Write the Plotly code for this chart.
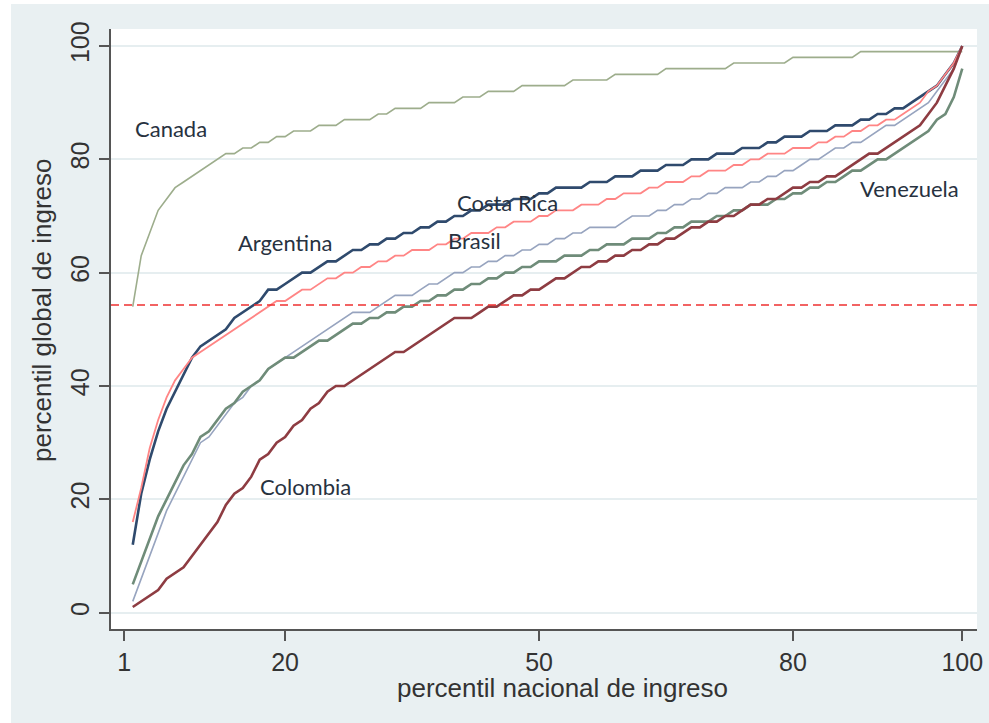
import plotly.graph_objects as go

# National income percentile (x) 2..100
percentil_nacional = list(range(2, 101))

canada = [54, 63, 67, 71, 73, 75, 76, 77, 78, 79, 80, 81, 81, 82, 82, 83, 83, 84, 84,
          85, 85, 85, 86, 86, 86, 87, 87, 87, 87, 88, 88, 89, 89, 89, 89, 90, 90, 90, 90,
          91, 91, 91, 92, 92, 92, 92, 93, 93, 93, 93, 93, 93, 94, 94, 94, 94, 94,
          95, 95, 95, 95, 95, 95, 96, 96, 96, 96, 96, 96, 96, 96,
          97, 97, 97, 97, 97, 97, 97, 98, 98, 98, 98, 98, 98, 98, 98,
          99, 99, 99, 99, 99, 99, 99, 99, 99, 99, 99, 99, 99]

argentina = [12, 21, 27, 32, 36, 39, 42, 45, 47, 48, 49, 50, 52, 53, 54, 55, 57, 57, 58,
             59, 60, 60, 61, 62, 62, 63, 64, 64, 65, 65, 66, 66, 67, 67, 68, 68, 69, 69,
             70, 70, 71, 71, 72, 72, 72, 73, 73, 73, 74, 74, 75, 75, 75, 75, 76, 76, 76,
             77, 77, 77, 78, 78, 78, 79, 79, 79, 80, 80, 80, 81, 81, 81, 82, 82, 82, 83,
             83, 84, 84, 84, 85, 85, 85, 86, 86, 86, 87, 87, 88, 88, 89, 89, 90, 91, 92,
             93, 95, 97, 100]

costa_rica = [16, 22, 29, 34, 38, 41, 43, 45, 46, 47, 48, 49, 50, 51, 52, 53, 54, 55, 55,
              56, 57, 57, 58, 59, 59, 60, 60, 61, 61, 62, 62, 63, 63, 64, 64, 64, 65, 65,
              66, 66, 67, 67, 67, 68, 68, 69, 69, 69, 70, 70, 71, 71, 71, 72, 72, 72, 73,
              73, 74, 74, 74, 75, 75, 76, 76, 76, 77, 77, 78, 78, 78, 79, 79, 80, 80, 81,
              81, 81, 82, 82, 82, 83, 83, 84, 84, 85, 85, 86, 86, 87, 87, 88, 89, 90, 92,
              93, 95, 97, 100]

brasil = [2, 6, 10, 14, 18, 21, 24, 27, 30, 31, 33, 35, 37, 38, 40, 41, 43, 44, 45, 46,
          47, 48, 49, 50, 51, 52, 53, 53, 53, 54, 55, 56, 56, 56, 57, 58, 58, 59, 60, 60,
          61, 61, 62, 62, 63, 63, 64, 64, 65, 65, 66, 66, 67, 67, 68, 68, 68, 68, 69, 70,
          70, 70, 71, 71, 72, 72, 73, 73, 74, 74, 75, 75, 75, 76, 76, 77, 77, 78, 78, 79,
          80, 80, 81, 82, 82, 83, 83, 84, 85, 86, 86, 87, 88, 89, 90, 92, 94, 96, 100]

venezuela = [5, 9, 13, 17, 20, 23, 26, 28, 31, 32,
             34, 36, 37, 39, 40, 41, 43, 44, 45, 45,
             46, 47, 48, 48, 49, 50, 51, 51, 52, 52,
             53, 53, 54, 54, 55, 55, 56, 56, 57, 57,
             58, 58, 59, 59, 60, 60, 61, 61, 62, 62,
             62, 63, 63, 63, 64, 64, 65, 65, 65, 66,
             66, 66, 67, 67, 68, 68, 69, 69, 69, 70,
             70, 71, 71, 72, 72, 72, 73, 73, 74, 74,
             75, 75, 76, 76, 77, 78, 78, 79, 80, 80,
             81, 82, 83, 84, 85, 87, 88, 91, 96]

colombia = [1, 2, 3, 4, 6, 7, 8, 10, 12, 14, 16, 19, 21, 22, 24, 27, 28, 30, 31, 33, 34,
            36, 37, 39, 40, 40, 41, 42, 43, 44, 45, 46, 46, 47, 48, 49, 50, 51, 52, 52,
            52, 53, 54, 54, 55, 56, 56, 57, 57, 58, 59, 59, 60, 61, 61, 62, 62, 63, 63,
            64, 64, 65, 65, 66, 66, 67, 68, 68, 69, 69, 70, 70, 71, 72, 72, 73, 73, 74,
            75, 75, 76, 76, 77, 77, 78, 79, 80, 81, 81, 82, 83, 84, 85, 86, 88, 90, 93,
            96, 100]

umbral = 54.3

series = [
    ("Canada", canada, "#9dad8c", 1.6),
    ("Argentina", argentina, "#2f4a6d", 2.6),
    ("Costa Rica", costa_rica, "#ff8585", 1.8),
    ("Brasil", brasil, "#97a4bf", 1.6),
    ("Venezuela", venezuela, "#6f8c79", 2.6),
    ("Colombia", colombia, "#8e3c42", 2.6),
]

# label positions (data coords)
etiquetas = [
    ("Canada", 6.52, 85.5),
    ("Argentina", 20.0, 65.4),
    ("Costa Rica", 46.27, 72.3),
    ("Brasil", 42.33, 65.6),
    ("Venezuela", 93.82, 74.8),
    ("Colombia", 22.44, 22.2),
]

x_ticks = [1, 20, 50, 80, 100]
y_ticks = [0, 20, 40, 60, 80, 100]

fig = go.Figure()
for name, vals, color, w in series:
    fig.add_trace(go.Scatter(x=percentil_nacional, y=vals, mode="lines", name=name,
                             line=dict(color=color, width=w), showlegend=False,
                             hoverinfo="skip"))

fig.add_shape(type="line", xref="paper", yref="y", x0=0, x1=1, y0=umbral, y1=umbral,
              line=dict(color="#ee3030", width=1.5, dash="8px,5px"), layer="above")

BG = "#e9f0f2"
W, H = 989, 723
L, R, T, B = 111, 12, 29, 94
pw, ph = W - L - R, H - T - B

def px2paper_x(px):
    return (px - L) / pw

def px2paper_y(py):
    return 1 - (py - T) / ph

# white strips at the very left / top of the image
fig.add_shape(type="rect", xref="paper", yref="paper",
              x0=px2paper_x(0), x1=px2paper_x(11), y0=px2paper_y(H), y1=px2paper_y(0),
              fillcolor="white", line=dict(width=0), layer="below")
fig.add_shape(type="rect", xref="paper", yref="paper",
              x0=px2paper_x(0), x1=px2paper_x(W), y0=px2paper_y(4), y1=px2paper_y(0),
              fillcolor="white", line=dict(width=0), layer="below")

for txt, xx, yy in etiquetas:
    fig.add_annotation(x=xx, y=yy, text=txt, showarrow=False,
                       font=dict(family="Lato", size=22, color="#27323f"),
                       xanchor="center", yanchor="middle")

# axis titles
fig.add_annotation(xref="paper", yref="paper", x=px2paper_x(562), y=px2paper_y(688),
                   text="percentil nacional de ingreso", showarrow=False,
                   font=dict(family="Liberation Sans", size=26, color="#333333"),
                   xanchor="center", yanchor="middle")
fig.add_annotation(xref="paper", yref="paper", x=px2paper_x(42), y=px2paper_y(310),
                   text="percentil global de ingreso", showarrow=False, textangle=-90,
                   font=dict(family="Liberation Sans", size=26, color="#333333"),
                   xanchor="center", yanchor="middle")

fig.update_layout(
    width=W, height=H,
    margin=dict(l=L, r=R, t=T, b=B, autoexpand=False),
    paper_bgcolor=BG, plot_bgcolor="white",
    font=dict(family="Liberation Sans", size=25, color="#333333"),
    xaxis=dict(range=[-0.57, 101.74], tickvals=x_ticks, ticktext=[str(v) for v in x_ticks],
               showgrid=False, zeroline=False, showline=True, linecolor="#555555",
               linewidth=1.5, ticks="outside", ticklen=10, tickwidth=1.5, automargin=False,
               tickcolor="#555555", tickfont=dict(size=25, color="#333333")),
    yaxis=dict(range=[-2.88, 103.0], tickvals=y_ticks, ticktext=[str(v) for v in y_ticks],
               showgrid=True, gridcolor="#e6eef0", gridwidth=2, zeroline=False,
               showline=True, linecolor="#555555", linewidth=1.5, ticks="outside",
               ticklen=10, tickwidth=1.5, tickcolor="#555555", tickangle=-90,
               automargin=False, tickfont=dict(size=25, color="#333333")),
)

fig.write_html("out.html", config={"displayModeBar": False},
               post_script="document.body.style.margin='0';document.body.style.padding='0';")
